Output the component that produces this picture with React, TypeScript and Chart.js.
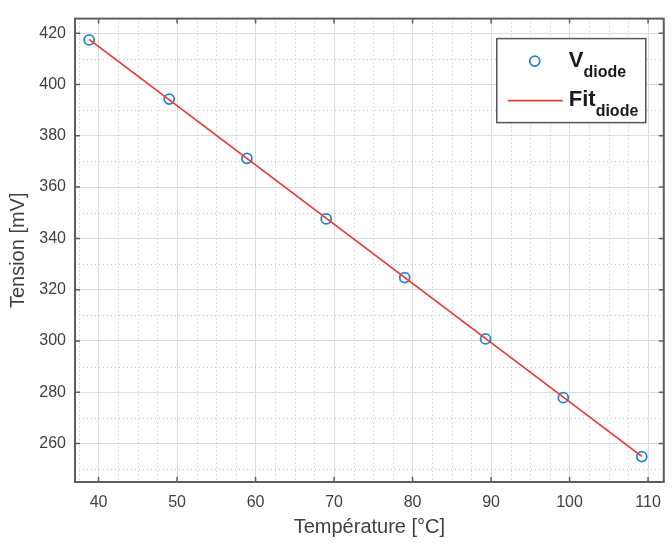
import React, { useEffect, useRef } from 'react';
import { Chart, registerables } from 'chart.js';

Chart.register(...registerables);

// ---- data ----
const temperatures = [38.8, 49.0, 58.9, 69.0, 79.0, 89.3, 99.2, 109.2];
const tensions = [417.4, 394.3, 371.2, 347.6, 324.7, 300.8, 277.9, 254.9];
const fitTemperatures = [38.8, 109.2];
const fitTensions = [417.6, 255.0];
const xTickValues = [40, 50, 60, 70, 80, 90, 100, 110];
const yTickValues = [260, 280, 300, 320, 340, 360, 380, 400, 420];
const legendMain = ['V', 'Fit'];
const legendSub = ['diode', 'diode'];
const xTitle = 'Température [°C]';
const yTitle = 'Tension [mV]';

const FONT = '"Liberation Sans", Arial, sans-serif';
const TEXT = '#404040';
const BLUE = '#2a86cb';
const RED = '#ec3a3a';

const matlabPlugin = {
  id: 'matlabAxes',
  beforeDatasetsDraw(chart: any) {
    const { ctx, chartArea: a, scales } = chart;
    const xs = scales.x;
    const ys = scales.y;
    ctx.save();
    ctx.beginPath();
    ctx.rect(a.left, a.top, a.right - a.left, a.bottom - a.top);
    ctx.clip();
    ctx.strokeStyle = '#c4c4c4';
    ctx.lineWidth = 1;
    ctx.setLineDash([1, 3]);
    for (let v = Math.ceil(xs.min / 2.5) * 2.5; v <= xs.max; v += 2.5) {
      if (Math.abs(v % 10) < 1e-6) continue;
      const px = Math.round(xs.getPixelForValue(v)) + 0.5;
      ctx.beginPath();
      ctx.moveTo(px, a.top);
      ctx.lineTo(px, a.bottom);
      ctx.stroke();
    }
    for (let v = Math.ceil(ys.min / 10) * 10; v <= ys.max; v += 10) {
      if (Math.abs(v % 20) < 1e-6) continue;
      const py = Math.round(ys.getPixelForValue(v)) + 0.5;
      ctx.beginPath();
      ctx.moveTo(a.left, py);
      ctx.lineTo(a.right, py);
      ctx.stroke();
    }
    ctx.restore();
  },
  afterDatasetsDraw(chart: any) {
    const { ctx, chartArea: a, scales } = chart;
    const xs = scales.x;
    const ys = scales.y;
    ctx.save();
    ctx.strokeStyle = '#5e5e5e';
    ctx.lineWidth = 1.5;
    ctx.setLineDash([]);
    const tl = 5;
    xTickValues.forEach((v) => {
      const px = xs.getPixelForValue(v);
      ctx.beginPath();
      ctx.moveTo(px, a.bottom);
      ctx.lineTo(px, a.bottom - tl);
      ctx.moveTo(px, a.top);
      ctx.lineTo(px, a.top + tl);
      ctx.stroke();
    });
    yTickValues.forEach((v) => {
      const py = ys.getPixelForValue(v);
      ctx.beginPath();
      ctx.moveTo(a.left, py);
      ctx.lineTo(a.left + tl, py);
      ctx.moveTo(a.right, py);
      ctx.lineTo(a.right - tl, py);
      ctx.stroke();
    });
    ctx.lineWidth = 2;
    ctx.strokeRect(a.left, a.top, a.right - a.left, a.bottom - a.top);
    ctx.restore();
  },
  afterDraw(chart: any) {
    const { ctx, chartArea: a } = chart;
    const ds = chart.data.datasets;
    const bx = a.right - 167;
    const by = a.top + 20;
    const bw = 149;
    const bh = 84;
    ctx.save();
    ctx.fillStyle = '#ffffff';
    ctx.fillRect(bx, by, bw, bh);
    ctx.strokeStyle = '#555555';
    ctx.lineWidth = 1.5;
    ctx.strokeRect(bx, by, bw, bh);

    // entry 1: circle marker
    ctx.strokeStyle = ds[0].borderColor;
    ctx.lineWidth = 1.8;
    ctx.beginPath();
    ctx.arc(bx + 38, by + 22.5, 5, 0, Math.PI * 2);
    ctx.stroke();
    // entry 2: line
    ctx.strokeStyle = ds[1].borderColor;
    ctx.lineWidth = 1.8;
    ctx.beginPath();
    ctx.moveTo(bx + 11, by + 62);
    ctx.lineTo(bx + 66, by + 62);
    ctx.stroke();

    ctx.fillStyle = '#1a1a1a';
    ctx.textBaseline = 'alphabetic';
    ctx.textAlign = 'left';
    const rows = [by + 28, by + 67];
    legendMain.forEach((m, i) => {
      ctx.font = `bold 22px ${FONT}`;
      const x0 = bx + 72;
      ctx.fillText(m, x0, rows[i]);
      const w = ctx.measureText(m).width;
      ctx.font = `bold 16px ${FONT}`;
      ctx.fillText(legendSub[i], x0 + w, rows[i] + 10);
    });
    ctx.restore();
  },
};

export default function App() {
  const ref = useRef<HTMLCanvasElement | null>(null);
  useEffect(() => {
    if (!ref.current) return;
    const chart = new Chart(ref.current, {
      type: 'scatter',
      data: {
        datasets: [
          {
            label: 'V_diode',
            data: temperatures.map((t, i) => ({ x: t, y: tensions[i] })),
            borderColor: BLUE,
            backgroundColor: 'rgba(0,0,0,0)',
            pointStyle: 'circle',
            pointRadius: 5,
            pointBorderWidth: 1.8,
            showLine: false,
            order: 1,
          },
          {
            label: 'Fit_diode',
            data: fitTemperatures.map((t, i) => ({ x: t, y: fitTensions[i] })),
            borderColor: RED,
            backgroundColor: RED,
            borderWidth: 1.8,
            pointRadius: 0,
            showLine: true,
            order: 0,
          },
        ],
      },
      options: {
        animation: false,
        responsive: false,
        maintainAspectRatio: false,
        layout: { padding: { left: 0, right: 1, top: 10, bottom: 0 } },
        plugins: { legend: { display: false }, tooltip: { enabled: false } },
        scales: {
          x: {
            type: 'linear',
            position: 'bottom',
            min: 37,
            max: 112,
            afterBuildTicks: (s: any) => {
              s.ticks = xTickValues.map((v) => ({ value: v }));
            },
            afterFit: (s: any) => {
              s.height = 63;
            },
            grid: { color: '#dcdcdc', lineWidth: 1, drawTicks: false },
            border: { display: false },
            ticks: {
              font: { family: FONT, size: 16 },
              color: TEXT,
              padding: 11,
              maxRotation: 0,
              autoSkip: false,
            },
            title: {
              display: true,
              text: xTitle,
              font: { family: FONT, size: 20 },
              color: TEXT,
              padding: { top: 0, bottom: 6 },
            },
          },
          y: {
            type: 'linear',
            min: 245,
            max: 425.7,
            afterBuildTicks: (s: any) => {
              s.ticks = yTickValues.map((v) => ({ value: v }));
            },
            afterFit: (s: any) => {
              s.width = 75;
            },
            grid: { color: '#dcdcdc', lineWidth: 1, drawTicks: false },
            border: { display: false },
            ticks: {
              font: { family: FONT, size: 16 },
              color: TEXT,
              padding: 9,
              autoSkip: false,
            },
            title: {
              display: true,
              text: yTitle,
              font: { family: FONT, size: 20 },
              color: TEXT,
              padding: { top: 6, bottom: 0 },
            },
          },
        },
      },
      plugins: [matlabPlugin],
    } as any);
    return () => chart.destroy();
  }, []);
  return (
    <div style={{ position: 'fixed', left: 0, top: 0, width: 672, height: 545, background: '#fff' }}>
      <canvas ref={ref} width={672} height={545} style={{ display: 'block' }} />
    </div>
  );
}
